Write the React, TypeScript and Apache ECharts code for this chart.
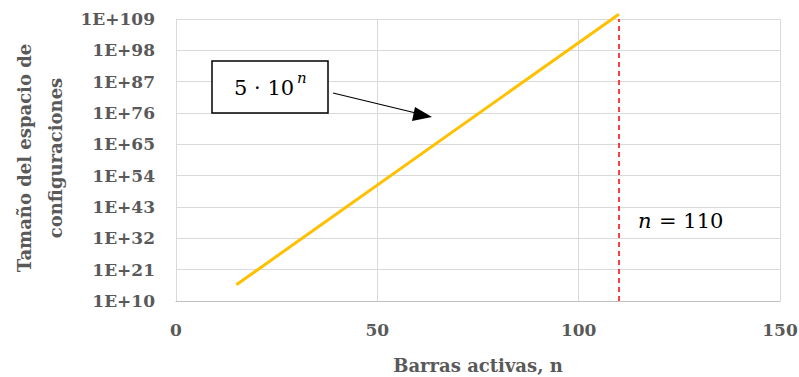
import React, { useEffect, useRef } from "react";
import * as echarts from "echarts";

// Data: configuration-space size 5·10^n for active bars n
const nValues = [15, 110];
const sizeValues = [5e15, 5e110];
const limitN = 110;

// Axis settings (exponent axis)
const expMin = 10;
const expStep = 11;
const expCount = 9;
const xTicks = [0, 50, 100, 150];

const TXT = "#595959";
const FONT = "DejaVu Serif";

export default function App() {
  const ref = useRef<HTMLDivElement>(null);
  useEffect(() => {
    document.body.style.margin = "0";
    if (!ref.current) return;
    const chart = echarts.init(ref.current, undefined, { renderer: "svg" });
    const lineData = nValues.map((n, i) => [n, Math.log10(sizeValues[i]) - expMin]);
    const txt = (size: number, weight = "normal", style = "normal", fill = TXT) => ({
      fontFamily: FONT,
      fontSize: size,
      fontWeight: weight,
      fontStyle: style,
      fill,
    });
    chart.setOption({
      animation: false,
      backgroundColor: "#ffffff",
      grid: { left: 176, right: 19, top: 19, bottom: 76, outerBoundsMode: "none" },
      xAxis: {
        type: "value",
        min: xTicks[0],
        max: xTicks[xTicks.length - 1],
        interval: 50,
        axisLine: { show: true, lineStyle: { color: "#bfbfbf", width: 1 } },
        axisTick: { show: false },
        splitLine: { show: true, lineStyle: { color: "#d9d9d9", width: 1 } },
        axisLabel: {
          color: TXT,
          fontFamily: FONT,
          fontWeight: "bold",
          fontSize: 17,
          margin: 20,
        },
      },
      yAxis: {
        type: "value",
        min: 0,
        max: expStep * expCount,
        interval: expStep,
        axisLine: { show: true, lineStyle: { color: "#d9d9d9", width: 1 } },
        axisTick: { show: false },
        splitLine: { show: true, lineStyle: { color: "#d9d9d9", width: 1 } },
        axisLabel: {
          color: TXT,
          fontFamily: FONT,
          fontWeight: "bold",
          fontSize: 17,
          margin: 21,
          formatter: (v: number) => "1E+" + (v + expMin),
        },
      },
      series: [
        {
          type: "line",
          data: lineData,
          clip: false,
          symbol: "none",
          lineStyle: { color: "#FFC000", width: 3 },
          markLine: {
            silent: true,
            symbol: "none",
            label: { show: false },
            lineStyle: { color: "#FF0000", width: 1.5, type: [5, 4] },
            data: [{ xAxis: limitN }],
          },
        },
      ],
      graphic: [
        {
          type: "text",
          x: 478,
          y: 365,
          style: {
            text: "Barras activas, n",
            ...txt(18, "bold"),
            align: "center",
            verticalAlign: "middle",
          },
        },
        {
          type: "text",
          x: 40,
          y: 158,
          rotation: Math.PI / 2,
          style: {
            text: "Tamaño del espacio de\nconfiguraciones",
            ...txt(18, "bold"),
            align: "center",
            verticalAlign: "middle",
            lineHeight: 31,
          },
        },
        {
          type: "rect",
          shape: { x: 212, y: 61, width: 116, height: 52 },
          style: { fill: "#ffffff", stroke: "#000000", lineWidth: 1.5 },
          z: 100,
        },
        {
          type: "text",
          x: 234,
          y: 88,
          z: 101,
          style: {
            text: "5 · 10",
            ...txt(21, "normal", "normal", "#000000"),
            verticalAlign: "middle",
          },
        },
        {
          type: "text",
          x: 297,
          y: 78,
          z: 101,
          style: {
            text: "n",
            ...txt(15, "normal", "italic", "#000000"),
            verticalAlign: "middle",
          },
        },
        {
          type: "line",
          shape: { x1: 333, y1: 93, x2: 420, y2: 114 },
          style: { stroke: "#000000", lineWidth: 1.2 },
          z: 101,
        },
        {
          type: "polygon",
          shape: { points: [[432, 117], [415, 107], [412, 121]] },
          style: { fill: "#000000" },
          z: 101,
        },
        {
          type: "text",
          x: 638,
          y: 221,
          z: 101,
          style: {
            text: "n",
            ...txt(21, "normal", "italic", "#000000"),
            verticalAlign: "middle",
          },
        },
        {
          type: "text",
          x: 659,
          y: 221,
          z: 101,
          style: {
            text: "= 110",
            ...txt(21, "normal", "normal", "#000000"),
            verticalAlign: "middle",
          },
        },
      ],
    });
    return () => chart.dispose();
  }, []);
  return <div ref={ref} style={{ width: 799, height: 377 }} />;
}
